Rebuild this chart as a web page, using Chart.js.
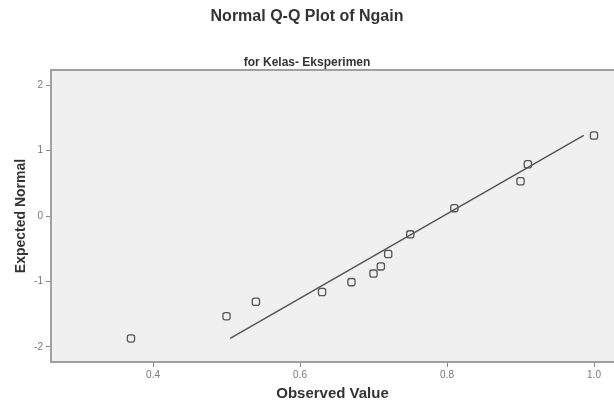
<!DOCTYPE html>
<html>
<head>
<meta charset="utf-8">
<script src="https://cdn.jsdelivr.net/npm/chart.js@4/dist/chart.umd.min.js"></script>
<style>
  html, body { margin: 0; padding: 0; background: #ffffff; }
  #wrap { width: 614px; height: 401px; position: relative; }
</style>
</head>
<body>
<div id="wrap"><canvas id="c"></canvas></div>
<script>
// Observed values (Ngain) and their expected normal scores
const observedValues = [0.37, 0.50, 0.54, 0.63, 0.67, 0.70, 0.71, 0.72, 0.75, 0.81, 0.90, 0.91, 1.00];
const expectedNormal = [-1.87, -1.53, -1.31, -1.16, -1.01, -0.88, -0.77, -0.58, -0.28, 0.12, 0.53, 0.79, 1.23];
// Reference line endpoints
const lineX = [0.505, 0.986];
const lineY = [-1.87, 1.23];
// Tick labels
const xTicks = [0.4, 0.6, 0.8, 1.0];
const yTicks = [-2, -1, 0, 1, 2];

const pts = observedValues.map((v, i) => ({ x: v, y: expectedNormal[i] }));
const linePts = lineX.map((v, i) => ({ x: v, y: lineY[i] }));

const frame = {
  id: 'frame',
  beforeDraw(chart) {
    const { ctx, chartArea: a } = chart;
    ctx.save();
    ctx.fillStyle = '#f0f0f0';
    ctx.fillRect(a.left, a.top, a.right - a.left, a.bottom - a.top);
    ctx.restore();
  },
  afterDraw(chart) {
    const { ctx, chartArea: a } = chart;
    ctx.save();
    ctx.strokeStyle = '#a0a0a0';
    ctx.lineWidth = 2;
    ctx.strokeRect(a.left, a.top, a.right - a.left + 2, a.bottom - a.top);
    ctx.restore();
  }
};

new Chart(document.getElementById('c'), {
  type: 'scatter',
  data: {
    datasets: [
      {
        type: 'line',
        data: linePts,
        borderColor: '#555555',
        borderWidth: 1.5,
        pointRadius: 0,
        fill: false,
        showLine: true
      },
      {
        data: pts,
        pointStyle: 'rectRounded',
        pointRadius: 4.2,
        borderWidth: 1.3,
        borderColor: '#555555',
        backgroundColor: 'rgba(0,0,0,0)'
      }
    ]
  },
  options: {
    responsive: true,
    maintainAspectRatio: false,
    animation: false,
    layout: { autoPadding: false, padding: 0 },
    plugins: {
      legend: { display: false },
      tooltip: { enabled: false },
      title: {
        display: true,
        text: 'Normal Q-Q Plot of Ngain',
        color: '#333333',
        font: { family: 'Liberation Sans', size: 16, weight: 'bold' },
        padding: { top: 7.4, bottom: 28.9 }
      },
      subtitle: {
        display: true,
        text: 'for Kelas- Eksperimen',
        color: '#333333',
        font: { family: 'Liberation Sans', size: 12, weight: 'bold' },
        padding: { top: 0, bottom: 0.1 }
      }
    },
    scales: {
      x: {
        type: 'linear',
        min: 0.2612,
        max: 1.0272,
        afterBuildTicks(scale) { scale.ticks = xTicks.map(v => ({ value: v })); },
        afterFit(scale) { scale.height = 39; scale.paddingLeft = 0; scale.paddingRight = 0; },
        border: { display: false },
        grid: { drawOnChartArea: false, drawTicks: true, tickLength: 5, color: '#888888', lineWidth: 1 },
        ticks: {
          padding: 2,
          color: '#777777',
          font: { family: 'Liberation Sans', size: 10 },
          maxRotation: 0,
          minRotation: 0,
          callback: v => Number(v).toFixed(1)
        },
        title: {
          display: true,
          text: 'Observed Value',
          color: '#333333',
          font: { family: 'Liberation Sans', size: 15, weight: 'bold' },
          padding: { top: 0, bottom: -1.5 }
        }
      },
      y: {
        type: 'linear',
        min: -2.23,
        max: 2.23,
        afterBuildTicks(scale) { scale.ticks = yTicks.map(v => ({ value: v })); },
        afterFit(scale) { scale.width = 51; scale.paddingTop = 0; scale.paddingBottom = 0; },
        border: { display: false },
        grid: { drawOnChartArea: false, drawTicks: true, tickLength: 5, color: '#888888', lineWidth: 1 },
        ticks: {
          padding: 3,
          color: '#777777',
          font: { family: 'Liberation Sans', size: 10 },
          callback: v => String(v)
        },
        title: {
          display: true,
          text: 'Expected Normal',
          color: '#333333',
          font: { family: 'Liberation Sans', size: 14, weight: 'bold' },
          padding: { top: 12.6, bottom: 0 }
        }
      }
    }
  },
  plugins: [frame]
});
</script>
</body>
</html>
